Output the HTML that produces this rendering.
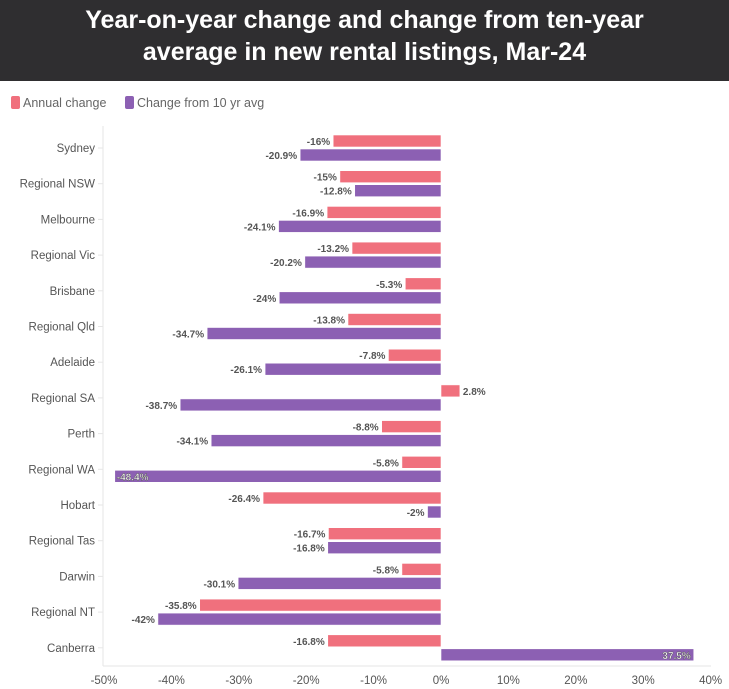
<!DOCTYPE html>
<html><head><meta charset="utf-8"><style>
body{margin:0;width:729px;height:689px;background:#fff;font-family:"Liberation Sans",sans-serif;overflow:hidden}
#title{position:absolute;left:0;top:0;width:729px;height:81px;background:#2f2e30;color:#fff;font-weight:bold;font-size:25px;text-align:center;line-height:32px;padding-top:4px;box-sizing:border-box}
</style></head><body>
<div id="title">Year-on-year change and change from ten-year<br>average in new rental listings, Mar-24</div>
<svg id="c" width="729" height="689" style="position:absolute;left:0;top:0"></svg>
<script>
const categories=["Sydney","Regional NSW","Melbourne","Regional Vic","Brisbane","Regional Qld","Adelaide","Regional SA","Perth","Regional WA","Hobart","Regional Tas","Darwin","Regional NT","Canberra"];
const annualChange=[-16,-15,-16.9,-13.2,-5.3,-13.8,-7.8,2.8,-8.8,-5.8,-26.4,-16.7,-5.8,-35.8,-16.8];
const tenYearChange=[-20.9,-12.8,-24.1,-20.2,-24,-34.7,-26.1,-38.7,-34.1,-48.4,-2,-16.8,-30.1,-42,37.5];
const xTicks=[-50,-40,-30,-20,-10,0,10,20,30,40];
const NS="http://www.w3.org/2000/svg",svg=document.getElementById('c');
const x=v=>441+v*6.74, yc=i=>148+i*35.7;
function mk(t,a,p){const e=document.createElementNS(NS,t);for(const k in a)e.setAttribute(k,a[k]);(p||svg).appendChild(e);return e;}
// legend
let g=mk('g',{});
mk('rect',{x:11,y:96,width:9,height:13,rx:2,fill:'#f0707d'},g);
let t=mk('text',{x:23,y:107,'font-size':12.5,fill:'#666'},g);t.textContent='Annual change';
mk('rect',{x:125,y:96,width:9,height:13,rx:2,fill:'#8c60b3'},g);
t=mk('text',{x:137,y:107,'font-size':12.5,fill:'#666'},g);t.textContent='Change from 10 yr avg';
// axes
let ax=mk('line',{x1:103,y1:126,x2:103,y2:666,stroke:'#e6e6e6'});
let bx=mk('line',{x1:103,y1:666,x2:711,y2:666,stroke:'#e6e6e6'});
xTicks.forEach(v=>{const e=mk('text',{x:x(v),y:684,'font-size':11.5,fill:'#555','text-anchor':'middle'});e.textContent=v+'%';
});
categories.forEach((c,i)=>{
 const e=mk('text',{x:95,y:yc(i)+4,'font-size':11.5,fill:'#555','text-anchor':'end'});e.textContent=c;
 
 mk('line',{x1:98,y1:yc(i),x2:103,y2:yc(i),stroke:'#e6e6e6'});
 [[annualChange[i],'#f0707d',yc(i)-13,'annual'],[tenYearChange[i],'#8c60b3',yc(i)+1,'tenyear']].forEach(([v,col,y,n])=>{
  const x0=Math.min(x(0),x(v)),w=Math.abs(x(v)-x(0));
  const r=mk('rect',{x:x0,y:y,width:w,height:12,fill:col,stroke:'#fff','stroke-width':0.6});
  
  const lab=v+'%';let lx,anc,fill='#555';
  if(v<0&&x(v)<120){lx=x(v)+2;anc='start';fill='#fff';}
  else if(v>30){lx=x(v)-3;anc='end';fill='#fff';}
  else if(v<0){lx=x(v)-3;anc='end';}else{lx=x(v)+3;anc='start';}
  const l=mk('text',{x:lx,y:y+10,'font-size':10,'font-weight':'bold',fill:fill,'text-anchor':anc});
  if(fill=='#fff'){l.setAttribute('stroke','#555');l.setAttribute('stroke-width','0.4');}
  l.textContent=lab;
 });
});
</script></body></html>
